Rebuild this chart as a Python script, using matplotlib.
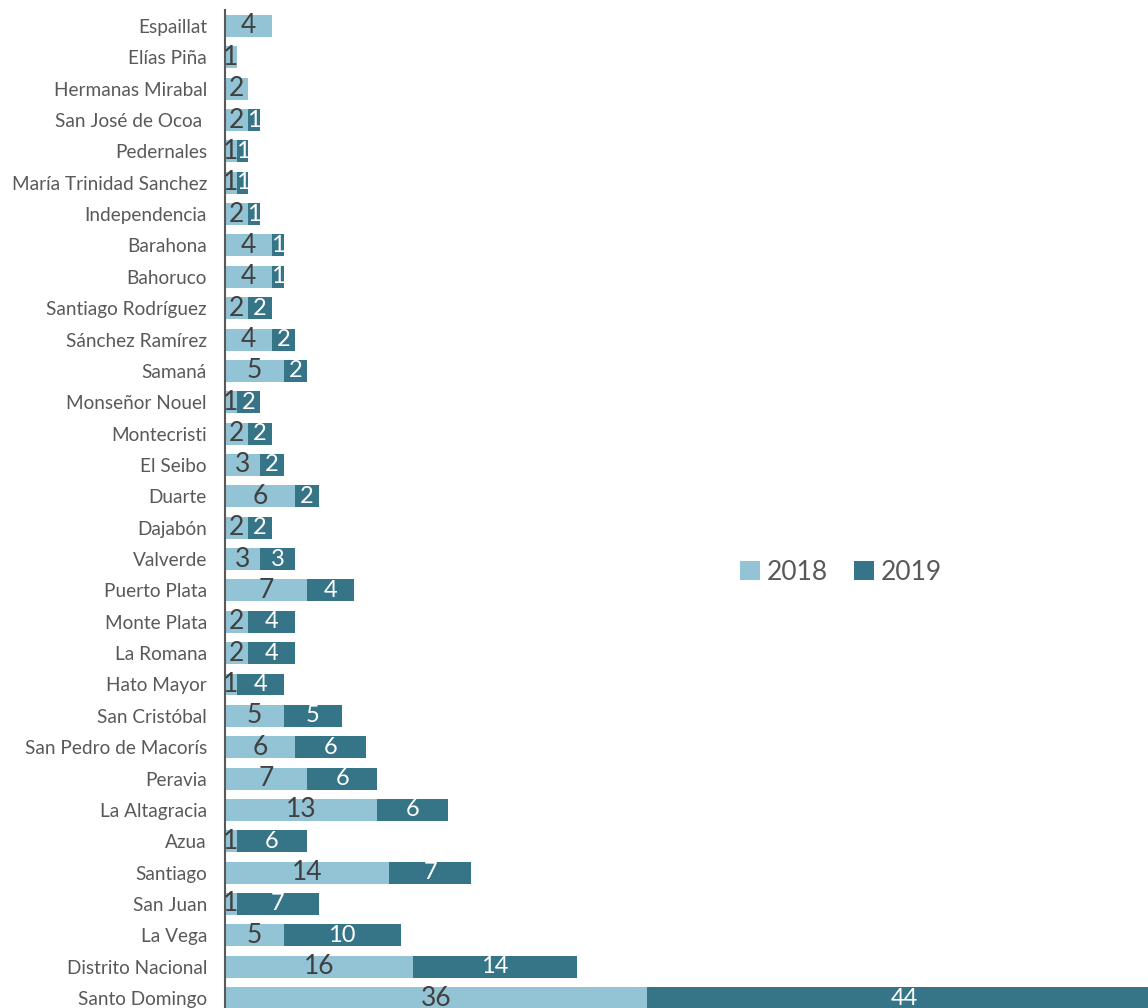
import numpy as np
import matplotlib
matplotlib.use("Agg")
import matplotlib.pyplot as plt

provincias = ["Espaillat", "Elías Piña", "Hermanas Mirabal", "San José de Ocoa ",
              "Pedernales", "María Trinidad Sanchez", "Independencia", "Barahona",
              "Bahoruco", "Santiago Rodríguez", "Sánchez Ramírez", "Samaná",
              "Monseñor Nouel", "Montecristi", "El Seibo", "Duarte", "Dajabón",
              "Valverde", "Puerto Plata", "Monte Plata", "La Romana", "Hato Mayor",
              "San Cristóbal", "San Pedro de Macorís", "Peravia", "La Altagracia",
              "Azua", "Santiago", "San Juan", "La Vega", "Distrito Nacional",
              "Santo Domingo"]
v2018 = [4, 1, 2, 2, 1, 1, 2, 4, 4, 2, 4, 5, 1, 2, 3, 6, 2, 3, 7, 2, 2, 1,
         5, 6, 7, 13, 1, 14, 1, 5, 16, 36]
v2019 = [0, 0, 0, 1, 1, 1, 1, 1, 1, 2, 2, 2, 2, 2, 2, 2, 2, 3, 4, 4, 4, 4,
         5, 6, 6, 6, 6, 7, 7, 10, 14, 44]

c18 = "#92c4d6"
c19 = "#357587"
plt.rcParams['font.family'] = ['Lato', 'DejaVu Sans']

fig = plt.figure(figsize=(11.48, 10.08), dpi=100)
ax = fig.add_axes([225/1148, -0.0057, 937.6/1148, 0.9955])

y = np.arange(len(provincias))
a = np.array(v2018)
b = np.array(v2019)
ax.barh(y, a, height=0.7, color=c18, label="2018")
ax.barh(y, b, left=a, height=0.7, color=c19, label="2019")

for i in range(len(y)):
    if a[i] > 0:
        ax.text(a[i] / 2, y[i], str(a[i]), ha="center", va="center",
                fontsize=19, color="#404040")
    if b[i] > 0:
        ax.text(a[i] + b[i] / 2, y[i], str(b[i]), ha="center", va="center",
                fontsize=17, color="white")

ax.set_xlim(0, 80)
ax.set_ylim(len(y) - 0.5, -0.5)
ax.set_yticks(y)
ax.set_yticklabels(provincias, fontsize=13.7, color="#595959")
ax.tick_params(axis="y", length=0, pad=13)
ax.set_xticks([])
for s in ["top", "right", "bottom"]:
    ax.spines[s].set_visible(False)
ax.spines["left"].set_color("#595959")
ax.spines["left"].set_linewidth(1.5)

fig.legend(loc="center", bbox_to_anchor=(841/1148, 1 - 572/1008), ncol=2,
           frameon=False, fontsize=19, labelcolor="#595959",
           handlelength=0.75, handleheight=0.75, handletextpad=0.25, columnspacing=1.0)

fig.savefig("out.png", dpi=100)
